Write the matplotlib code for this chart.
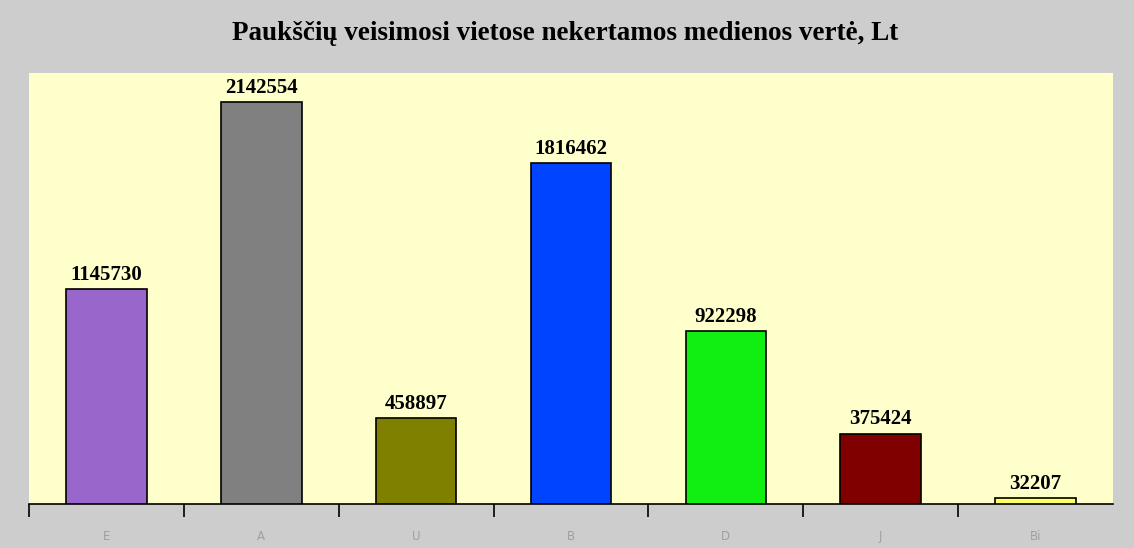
import matplotlib.pyplot as plt
import numpy as np

categories = ["E", "A", "U", "B", "D", "J", "Bi"]
values = [1145730, 2142554, 458897, 1816462, 922298, 375424, 32207]
colors = ["#9966cc", "#808080", "#808000", "#0044ff", "#11ee11", "#800000", "#ffff66"]

fig = plt.figure(figsize=(11.34, 5.48), dpi=100, facecolor="#cdcdcd")
ax = fig.add_axes([0.0256, 0.0803, 0.9559, 0.7865])
ax.set_facecolor("#ffffcc")

x = np.arange(len(categories))
bars = ax.bar(x, values, width=0.52, color=colors, edgecolor="black", linewidth=1.2, zorder=3)
for b, v in zip(bars, values):
    ax.annotate(str(v), (b.get_x() + b.get_width() / 2, v), xytext=(0, 3),
                textcoords="offset points", ha="center", va="bottom",
                fontsize=15, fontweight="bold", family="Liberation Serif", zorder=4)

ax.set_xlim(-0.5, len(categories) - 0.5)
ax.set_ylim(0, 2297000)
for s in ["left", "right", "top"]:
    ax.spines[s].set_visible(False)
ax.spines["bottom"].set_linewidth(1.2)
ax.set_yticks([])

# boundary ticks (major) and centred labels (minor)
ax.set_xticks(np.arange(-0.5, len(categories) - 0.5, 1.0))
ax.set_xticklabels([])
ax.tick_params(axis="x", which="major", direction="out", length=9, width=1.2, color="black")
ax.set_xticks(x, minor=True)
ax.set_xticklabels(categories, minor=True)
ax.tick_params(axis="x", which="minor", length=0, pad=19, labelsize=8.5, labelcolor="#a0a0a0")

fig.text(0.498, 0.938, "Paukščių veisimosi vietose nekertamos medienos vertė, Lt",
         ha="center", va="center", fontsize=19.5, fontweight="bold", family="Liberation Serif")

fig.savefig("out.png", dpi=100, facecolor=fig.get_facecolor())
